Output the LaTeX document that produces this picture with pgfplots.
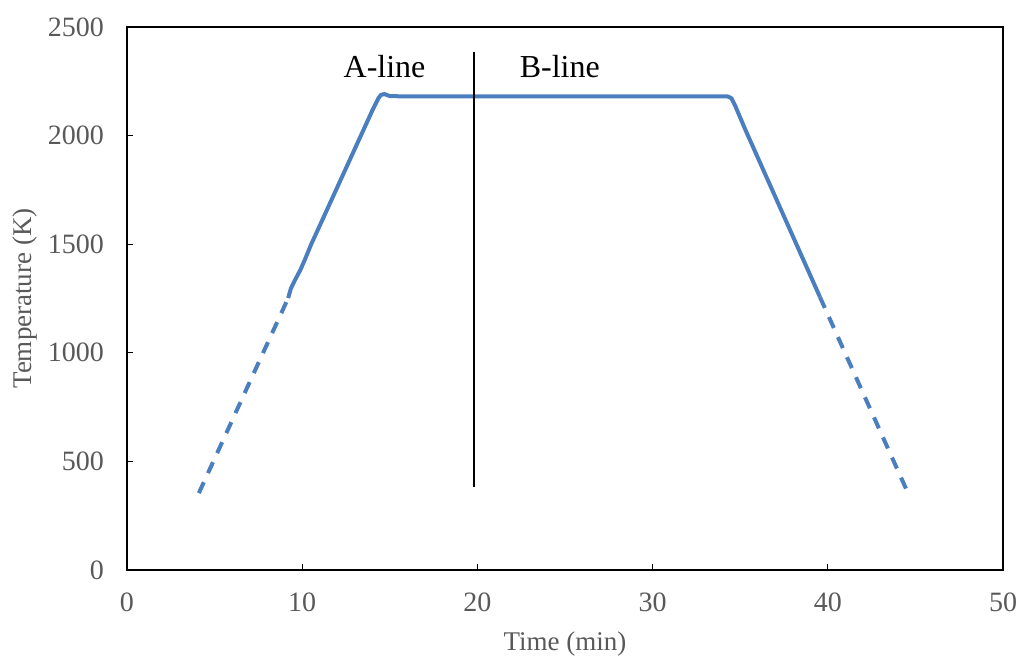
\documentclass[border=0pt]{standalone}
\usepackage{fontspec}
\setmainfont{Liberation Serif}
\usepackage{pgfplots}
\pgfplotsset{compat=1.18}
\definecolor{serblue}{HTML}{4A7EBF}
\definecolor{txtgray}{HTML}{595959}
\begin{document}
\begin{tikzpicture}
\begin{axis}[
  name=ax,
  scale only axis,
  width=438pt, height=271.5pt,
  xmin=0, xmax=50, ymin=0, ymax=2500,
  xtick={0,10,...,50}, ytick={0,500,...,2500},
  xtick pos=bottom, ytick pos=left,
  tick align=inside,
  major tick length=3pt,
  axis line style={black, line width=1pt},
  tick style={black, line width=0.6pt},
  x tick label style={font=\fontsize{14}{16}\selectfont, text=txtgray},
  y tick label style={font=\fontsize{14}{16}\selectfont, text=txtgray},
  /pgf/number format/assume math mode=true,
  /pgf/number format/set thousands separator={},
  xticklabel shift=8pt,
  yticklabel shift=8pt,
  xlabel={Time (min)},
  ylabel={Temperature (K)},
  label style={font=\fontsize{13.5}{15}\selectfont, text=txtgray},
  xlabel style={yshift=-3pt},
  ylabel style={yshift=-1.5pt},
  clip=false,
]
\addplot[serblue, line width=2pt, dash pattern=on 6pt off 5pt] coordinates {
 (4.1,354) (9.2,1252)
};
\addplot[serblue, line width=2pt, line join=round] coordinates {
 (9.2,1252) (9.35,1295) (9.6,1337) (9.9,1382) (10.2,1438) (10.5,1497)
 (11,1585) (12.5,1850) (14.0,2115) (14.35,2172) (14.5,2188) (14.7,2191)
 (15.0,2182) (16,2180) (20,2180) (25,2180) (30,2180) (34.3,2180)
 (34.5,2172) (34.7,2140) (35.3,2026) (36.5,1809) (39.55,1257)
};
\addplot[serblue, line width=2pt, dash pattern=on 6pt off 5pt] coordinates {
 (39.55,1257) (44.5,368)
};
\addplot[black, line width=0.8pt] coordinates {(19.8,382) (19.8,2385)};
\node[font=\fontsize{16}{18}\selectfont] at (axis cs:14.7,2316) {A-line};
\node[font=\fontsize{16}{18}\selectfont] at (axis cs:24.7,2316) {B-line};
\end{axis}
\pgfresetboundingbox
\path[use as bounding box] ([shift={(-63.5pt,-43.5pt)}]ax.south west) rectangle ([shift={(7pt,13.5pt)}]ax.north east);
\end{tikzpicture}
\end{document}
